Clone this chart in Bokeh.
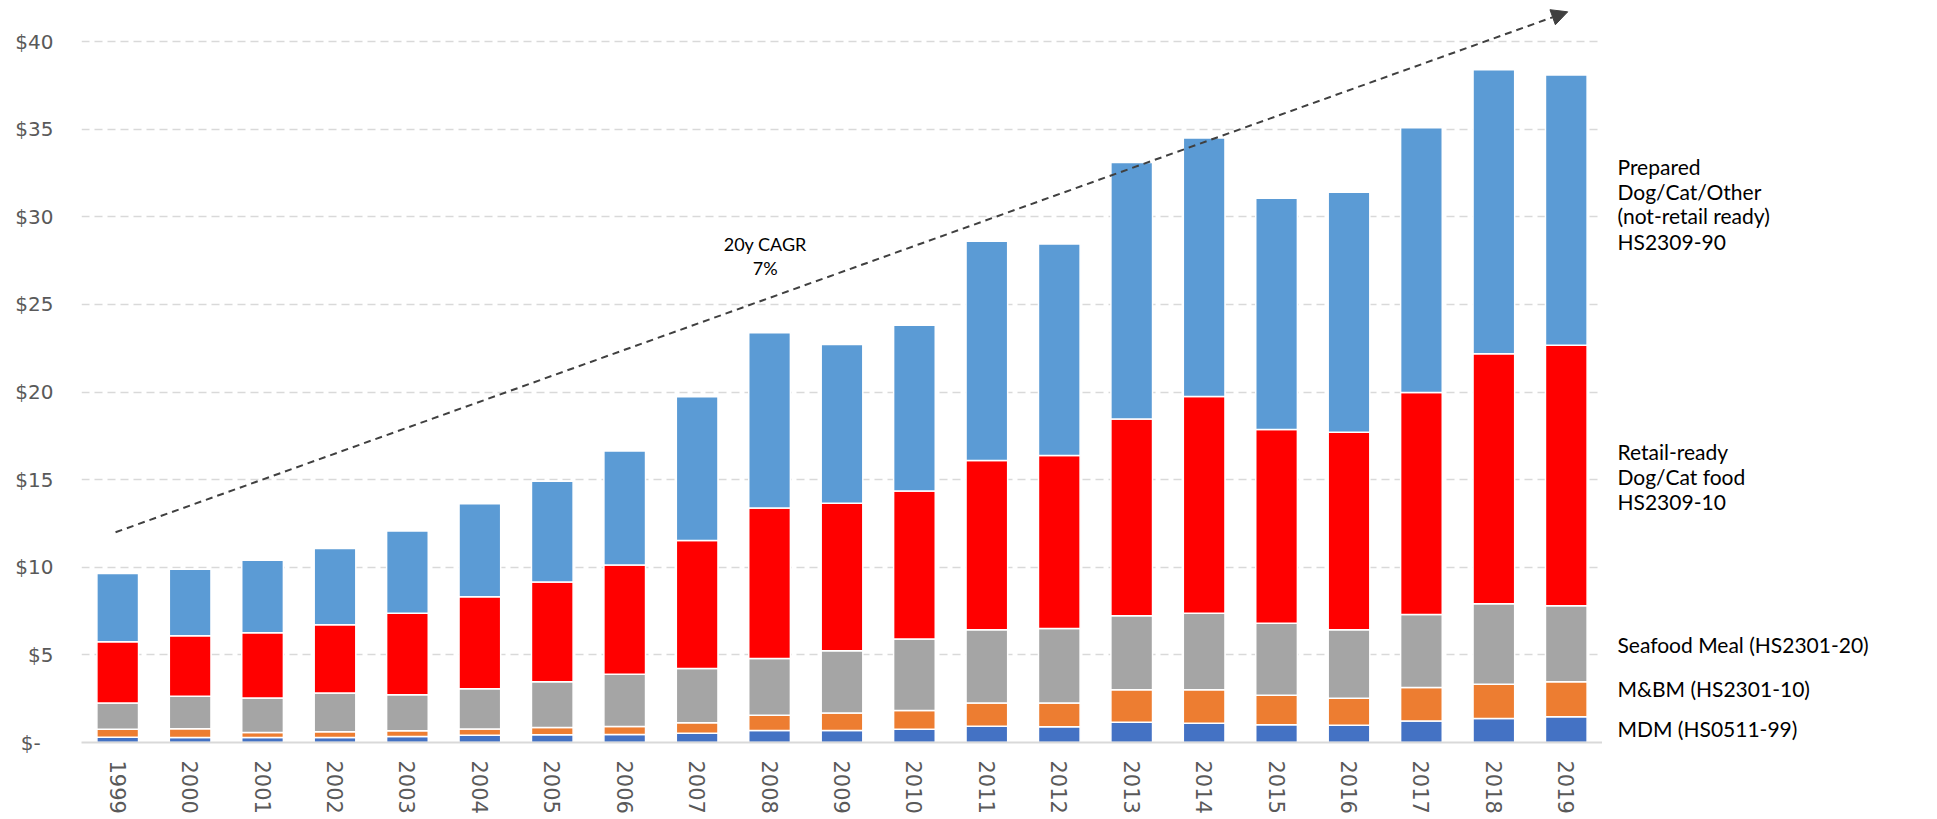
import math
from bokeh.plotting import figure
from bokeh.layouts import row
from bokeh.models import (ColumnDataSource, FactorRange, Range1d, FixedTicker,
                          Label, Arrow, NormalHead)
from bokeh.core.properties import value
from bokeh.embed import file_html
from bokeh.resources import INLINE

# ---------------- data ----------------
years = [str(y) for y in range(1999, 2020)]
mdm      = [0.30, 0.29, 0.29, 0.29, 0.34, 0.42, 0.44, 0.46, 0.53, 0.69, 0.69,
            0.76, 0.93, 0.90, 1.16, 1.10, 1.01, 0.99, 1.22, 1.37, 1.47]
mbm      = [0.45, 0.50, 0.28, 0.33, 0.33, 0.35, 0.42, 0.46, 0.60, 0.86, 0.99,
            1.07, 1.32, 1.35, 1.85, 1.91, 1.68, 1.54, 1.92, 1.96, 2.00]
seafood  = [1.50, 1.85, 1.97, 2.20, 2.05, 2.30, 2.60, 2.97, 3.10, 3.24, 3.56,
            4.07, 4.19, 4.25, 4.23, 4.36, 4.11, 3.91, 4.16, 4.59, 4.34]
retail   = [3.50, 3.45, 3.72, 3.90, 4.65, 5.25, 5.70, 6.24, 7.30, 8.60, 8.42,
            8.46, 9.66, 9.88, 11.22, 12.38, 11.07, 11.27, 12.68, 14.27, 14.86]
prepared = [3.90, 3.80, 4.14, 4.35, 4.70, 5.30, 5.75, 6.50, 8.20, 10.00, 9.06,
            9.45, 12.50, 12.07, 14.64, 14.75, 13.19, 13.69, 15.10, 16.20, 15.43]

series_keys   = ["mdm", "mbm", "seafood", "retail", "prepared"]
series_colors = ["#4472C4", "#ED7D31", "#A5A5A5", "#FF0000", "#5B9BD5"]

y_ticks       = [0, 5, 10, 15, 20, 25, 30, 35, 40]
y_tick_labels = ["$-\u00a0\u00a0", "$5", "$10", "$15", "$20", "$25", "$30", "$35", "$40"]

cagr_lines = ["20y CAGR", "7%"]
series_label_text = ["Prepared", "Dog/Cat/Other", "(not-retail ready)", "HS2309-90",
                     "Retail-ready", "Dog/Cat food", "HS2309-10",
                     "Seafood Meal (HS2301-20)",
                     "M&BM (HS2301-10)",
                     "MDM (HS0511-99)"]
series_label_y = [32.88, 31.47, 30.05, 28.62,
                  16.63, 15.20, 13.78,
                  5.61,
                  3.10,
                  0.82]

# ---------------- main chart ----------------
source = ColumnDataSource(dict(year=years, mdm=mdm, mbm=mbm, seafood=seafood,
                               retail=retail, prepared=prepared))

p = figure(x_range=FactorRange(*years, range_padding=0, factor_padding=0),
           y_range=Range1d(0, 41.89),
           frame_width=1521, frame_height=734,
           min_border_left=81, min_border_right=0,
           min_border_top=8, min_border_bottom=76,
           output_backend="svg", toolbar_location=None, tools="")

p.vbar_stack(series_keys, x="year", width=0.575, source=source,
             color=series_colors, line_color="white", line_width=1.5)

p.outline_line_color = None
p.background_fill_color = "white"
p.border_fill_color = "white"

p.xgrid.grid_line_color = None
p.ygrid.grid_line_color = "#D9D9D9"
p.ygrid.grid_line_dash = "8 5"
p.ygrid.grid_line_width = 1.5
p.yaxis.ticker = FixedTicker(ticks=y_ticks)
p.ygrid.ticker = FixedTicker(ticks=[t for t in y_ticks if t > 0])

p.yaxis.major_label_overrides = {t: l for t, l in zip(y_ticks, y_tick_labels)}
p.yaxis.axis_line_color = None
p.yaxis.major_tick_line_color = None
p.yaxis.minor_tick_line_color = None
p.yaxis.major_tick_in = 0
p.yaxis.major_tick_out = 0
p.yaxis.major_label_standoff = 28
p.yaxis.major_label_text_font = "DejaVu Sans"
p.yaxis.major_label_text_font_size = "20px"
p.yaxis.major_label_text_color = "#595959"

p.xaxis.axis_line_color = "#D9D9D9"
p.xaxis.axis_line_width = 2
p.xaxis.major_tick_line_color = None
p.xaxis.minor_tick_line_color = None
p.xaxis.major_tick_in = 0
p.xaxis.major_tick_out = 0
p.xaxis.major_label_orientation = -math.pi / 2
p.xaxis.major_label_standoff = 18
p.xaxis.major_label_text_font = "DejaVu Sans"
p.xaxis.major_label_text_font_size = "21px"
p.xaxis.major_label_text_color = "#595959"

p.add_layout(Arrow(end=NormalHead(size=16, fill_color="#404040", line_color="#404040"),
                   x_start=0.47, y_start=12.0, x_end=20.52, y_end=41.7,
                   line_color="#404040", line_width=2, line_dash="7 5"))

for txt, yy in zip(cagr_lines, [28.44, 27.08]):
    p.add_layout(Label(x=9.44, y=yy, text=txt, text_align="center",
                       text_baseline="middle", text_font="Lato",
                       text_font_size="18px", text_color="#000000"))

# ---------------- right-hand series labels ----------------
p2 = figure(x_range=Range1d(0, 326), y_range=p.y_range,
            frame_width=326, frame_height=734,
            min_border_left=0, min_border_right=0,
            min_border_top=8, min_border_bottom=76,
            x_axis_location=None, y_axis_location=None,
            output_backend="svg", toolbar_location=None, tools="")
p2.grid.visible = False
p2.outline_line_color = None
p2.text(x=[15] * len(series_label_text), y=series_label_y, text=series_label_text,
        text_align="left", text_baseline="middle", text_font=value("Lato"),
        text_font_size="21px", text_color="#000000")

layout = row(p, p2, spacing=0)
open("out.html", "w").write(file_html(layout, INLINE))
